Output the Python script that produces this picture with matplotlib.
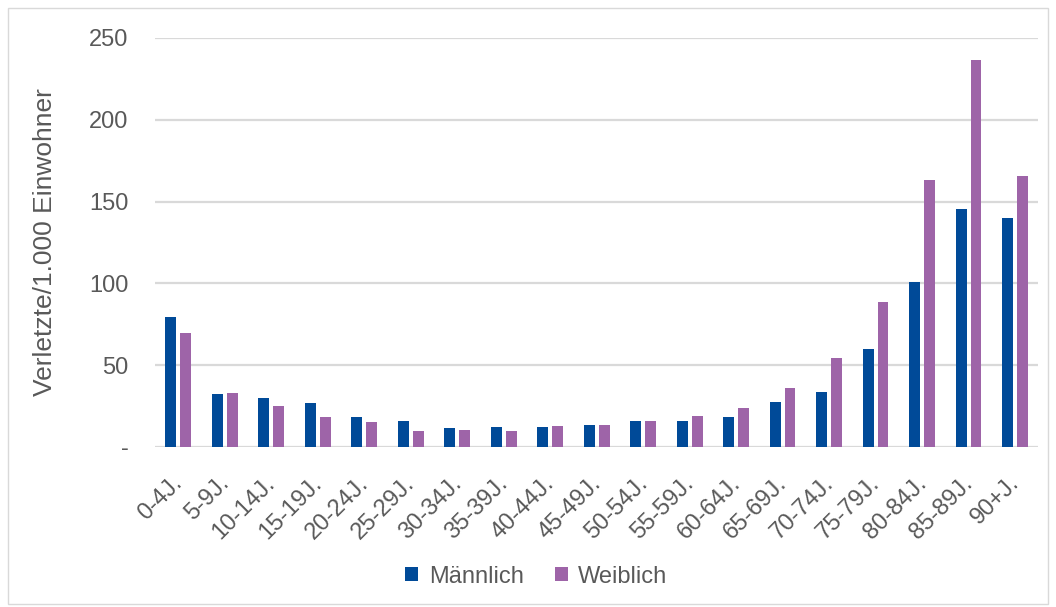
import matplotlib.pyplot as plt
import matplotlib.transforms as mtransforms
import numpy as np
from matplotlib.patches import Rectangle

plt.rcParams['font.family'] = ['Liberation Sans', 'DejaVu Sans']

# age groups and rates (injured per 1,000 inhabitants)
age_groups = ['0-4J.', '5-9J.', '10-14J.', '15-19J.', '20-24J.', '25-29J.',
              '30-34J.', '35-39J.', '40-44J.', '45-49J.', '50-54J.', '55-59J.',
              '60-64J.', '65-69J.', '70-74J.', '75-79J.', '80-84J.', '85-89J.',
              '90+J.']
maennlich = [79.5, 32.4, 30.0, 26.9, 18.4, 15.7, 11.6, 12.2, 12.2, 13.7,
             15.7, 15.7, 18.6, 27.7, 33.4, 60.0, 101.0, 145.3, 140.2]
weiblich = [69.6, 33.0, 24.9, 18.4, 15.3, 10.0, 10.2, 9.8, 12.8, 13.7,
            16.1, 18.8, 23.9, 36.1, 54.7, 88.4, 163.0, 236.6, 165.7]
yticks = [0, 50, 100, 150, 200, 250]
ytick_labels = ['-', '50', '100', '150', '200', '250']

blue = '#004a98'
purple = '#9e64a8'
grey_text = '#595959'

fig = plt.figure(figsize=(10.56, 6.07), dpi=100)
ax = fig.add_axes([0.1468, 0.2636, 0.8364, 0.6738])

x = np.arange(len(age_groups))
w = 0.235
ax.bar(x - 0.16, maennlich, w, color=blue, label='Männlich', zorder=3)
ax.bar(x + 0.16, weiblich, w, color=purple, label='Weiblich', zorder=3)

ax.set_xlim(-0.5, len(age_groups) - 0.5)
ax.set_ylim(0, 250)
ax.set_yticks(yticks)
ax.set_yticklabels(ytick_labels)
ax.grid(axis='y', color='#d9d9d9', linewidth=1.6, zorder=0)
ax.set_axisbelow(True)
for s in ax.spines.values():
    s.set_visible(False)

ax.set_xticks(x)
ax.set_xticklabels(age_groups, rotation=45, ha='right', rotation_mode='anchor')
ax.tick_params(axis='y', length=0, labelsize=17, colors=grey_text, pad=19)
ax.tick_params(axis='x', length=0, labelsize=17, colors=grey_text, pad=18)
# nudge the rotated labels left so the dot sits just right of the tick
shift = mtransforms.ScaledTranslation(-7 / 100, 0, fig.dpi_scale_trans)
for lbl in ax.get_xticklabels():
    lbl.set_transform(lbl.get_transform() + shift)
ax.set_ylabel('Verletzte/1.000 Einwohner', fontsize=19, color=grey_text)
ax.yaxis.set_label_coords(-0.111, 0.5)

fig.legend(loc='center', bbox_to_anchor=(0.508, 0.05), ncol=2, frameon=False,
           fontsize=17, handlelength=0.55, handleheight=0.55, handletextpad=0.45,
           columnspacing=1.3, labelcolor=grey_text)

fig.patches.append(Rectangle((0.008, 0.005), 0.984, 0.982, transform=fig.transFigure,
                             fill=False, edgecolor='#d9d9d9', linewidth=1))

fig.savefig('out.png', dpi=100)
